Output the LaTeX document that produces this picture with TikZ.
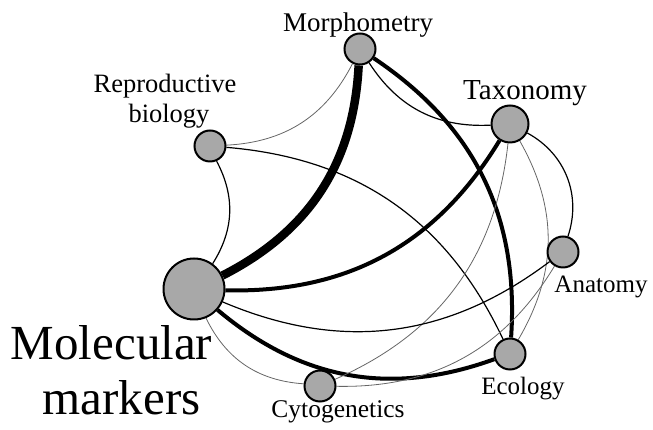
\documentclass[tikz,border=0pt]{standalone}
\usepackage{fontspec}
\setmainfont{Liberation Serif}
\usetikzlibrary{backgrounds}
\definecolor{nodegray}{RGB}{168,168,168}
\begin{document}
\begin{tikzpicture}[x=1pt,y=1pt,
  nd/.style={circle,draw=black,line width=2pt,fill=nodegray,inner sep=0pt},
  sm/.style={nd,minimum size=31pt},
  lbl/.style={anchor=base,inner sep=0pt,font=\fontsize{25}{30}\selectfont},
  vthick/.style={line width=8.5pt},
  thk/.style={line width=4pt},
  thinA/.style={line width=1.2pt,black},
  thinB/.style={line width=0.8pt,black!60},
  ]
\useasboundingbox (0,0) rectangle (653,430);
% nodes
\node[sm] (M) at (360,381) {};
\node[nd,minimum size=37pt] (T) at (510,306) {};
\node[sm] (R) at (210,284) {};
\node[nd,minimum size=61pt] (MM) at (194,141) {};
\node[sm] (A) at (563,178) {};
\node[sm] (E) at (510,76) {};
\node[sm] (C) at (320,44) {};
% labels
\node[lbl,font=\fontsize{27}{30}\selectfont] (Mlab) at (358,398) {Morphometry};
\node[lbl,font=\fontsize{29}{34}\selectfont] (Tlab) at (525,330) {Taxonomy};
\node[lbl,font=\fontsize{26.5}{30}\selectfont] (Rlab1) at (165,337) {Reproductive};
\node[lbl,font=\fontsize{26.5}{30}\selectfont] (Rlab2) at (169,307) {biology};
\node[lbl,font=\fontsize{49}{55}\selectfont] (MMlab1) at (111.5,70) {Molecular};
\node[lbl,font=\fontsize{49}{55}\selectfont] (MMlab2) at (121.5,15) {markers};
\node[lbl] (Alab) at (601,137) {Anatomy};
\node[lbl] (Elab) at (523,35) {Ecology};
\node[lbl,font=\fontsize{25.5}{30}\selectfont] (Clab) at (338,12) {Cytogenetics};
% edges
\begin{scope}[on background layer]
\draw[vthick] (M) to[bend left=30] (MM);
\draw[thk] (M) to[bend left=30] (E);
\draw[thk] (T) to[bend left=30] (MM);
\draw[thk] (MM) to[bend right=30] (E);
\draw[thinA] (R) to[bend left=30] (MM);
\draw[thinB] (M) to[bend left=30] (R);
\draw[thinA] (R) to[bend left=30] (E);
\draw[thinA] (T) to[bend left=30] (M);
\draw[thinA] (T) to[bend left=40] (A);
\draw[thinB] (T) to[bend left=30] (E);
\draw[thinB] (T) to[bend left=30] (C);
\draw[thinA] (A) to[bend left=30] (MM);
\draw[thinB] (C) to[bend left=30] (MM);
\draw[thinB] (A) to[bend left=30] (C);
\end{scope}
\end{tikzpicture}
\end{document}
